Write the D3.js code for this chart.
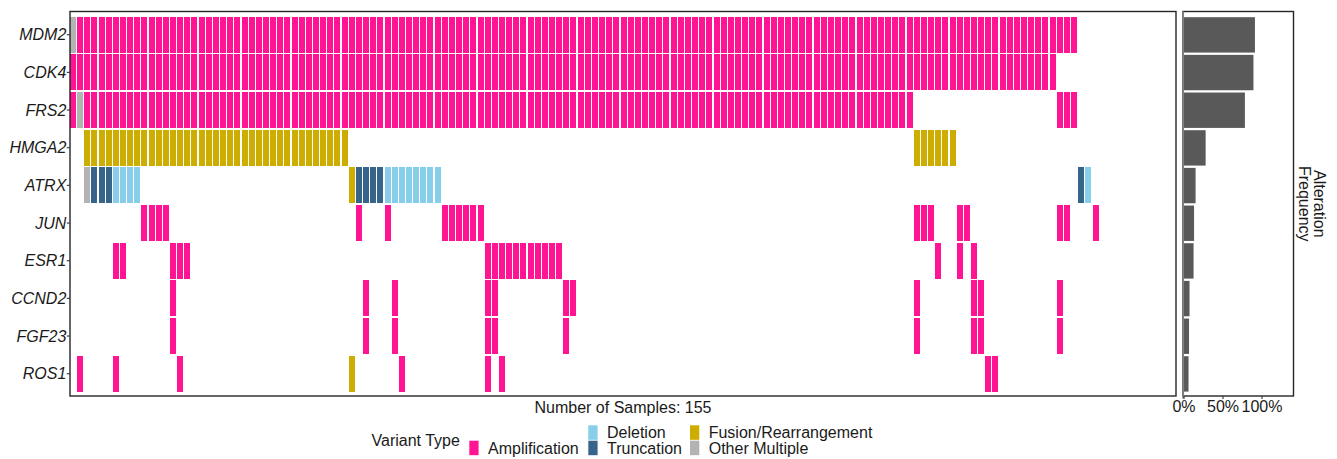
<!DOCTYPE html>
<html>
<head>
<meta charset="utf-8">
<script src="https://cdn.jsdelivr.net/npm/d3@7"></script>
<style>
  body { margin: 0; background: #ffffff; }
  svg { display: block; font-family: "Liberation Sans", Arial, Helvetica, sans-serif; }
</style>
</head>
<body>
<svg id="chart" width="1337" height="459"></svg>
<script>
// ---- data -------------------------------------------------------------
const genes = ["MDM2", "CDK4", "FRS2", "HMGA2", "ATRX", "JUN", "ESR1", "CCND2", "FGF23", "ROS1"];
const sampleTotal = 155;

// One character per sample (grouped in tens):
// A = Amplification, D = Deletion, T = Truncation,
// F = Fusion/Rearrangement, O = Other Multiple, . = no alteration
const MDM2  = "OAAAAAAAAA AAAAAAAAAA AAAAAAAAAA AAAAAAAAAA AAAAAAAAAA AAAAAAAAAA AAAAAAAAAA AAAAAAAAAA AAAAAAAAAA AAAAAAAAAA AAAAAAAAAA AAAAAAAAAA AAAAAAAAAA AAAAAAAAAA A......... .....";
const CDK4  = "AAAAAAAAAA AAAAAAAAAA AAAAAAAAAA AAAAAAAAAA AAAAAAAAAA AAAAAAAAAA AAAAAAAAAA AAAAAAAAAA AAAAAAAAAA AAAAAAAAAA AAAAAAAAAA AAAAAAAAAA AAAAAAAAAA AAAAAAAA.. .......... .....";
const FRS2  = "AOAAAAAAAA AAAAAAAAAA AAAAAAAAAA AAAAAAAAAA AAAAAAAAAA AAAAAAAAAA AAAAAAAAAA AAAAAAAAAA AAAAAAAAAA AAAAAAAAAA AAAAAAAAAA AAAAAAAA.. .......... ........AA A......... .....";
const HMGA2 = "..FFFFFFFF FFFFFFFFFF FFFFFFFFFF FFFFFFFFF. .......... .......... .......... .......... .......... .......... .......... ........FF FFFF...... .......... .......... .....";
const ATRX  = "..OTTTDDDD .......... .......... .........F TTTTDDDDDD DD........ .......... .......... .......... .......... .......... .......... .......... .......... .TD....... .....";
const JUN   = ".......... AAAA...... .......... .......... A...A..... ..AAAAAA.. .......... .......... .......... .......... .......... ........AA A...AA.... ........AA ...A...... .....";
const ESR1  = "......AA.. ....AAA... .......... .......... .......... ........AA AAAAAAAAA. .......... .......... .......... .......... .......... .A..A.A... .......... .......... .....";
const CCND2 = ".......... ....A..... .......... .......... .A...A.... ........AA .........A A......... .......... .......... .......... ........A. ......AA.. ........A. .......... .....";
const FGF23 = ".......... ....A..... .......... .......... .A...A.... ........AA .........A .......... .......... .......... .......... ........A. ......AA.. ........A. .......... .....";
const ROS1  = ".A....A... .....A.... .......... .........F ......A... ........A. A......... .......... .......... .......... .......... .......... ........AA .......... .......... .....";

const geneRows = [MDM2, CDK4, FRS2, HMGA2, ATRX, JUN, ESR1, CCND2, FGF23, ROS1];

const variantCodes  = ["A", "D", "T", "F", "O"];
const variantTypes  = ["Amplification", "Deletion", "Truncation", "Fusion/Rearrangement", "Other Multiple"];
const variantColors = ["#FF1493", "#87CEEB", "#36648B", "#CDAD00", "#B3B3B3"];

const freqTicks = [0, 0.5, 1];
const freqTickLabels = ["0%", "50%", "100%"];

// ---- tidy records -----------------------------------------------------
const codeToType = new Map(variantCodes.map((c, i) => [c, variantTypes[i]]));
const cells = [];
const freqs = [];
genes.forEach((g, gi) => {
  const s = geneRows[gi].replace(/ /g, "");
  let n = 0;
  for (let i = 0; i < s.length; i++) {
    if (s[i] !== ".") {
      cells.push({ gene: g, sample: i, type: codeToType.get(s[i]) });
      n++;
    }
  }
  freqs.push({ gene: g, freq: n / sampleTotal });
});

// ---- layout -----------------------------------------------------------
const svg = d3.select("#chart");
const ink = "#1a1a1a";

const panel = { left: 70, right: 1176, top: 11.5, bottom: 396 };
const freqPanel = { left: 1183, right: 1293.5, top: 11.5, bottom: 396 };

const x = d3.scaleBand()
  .domain(d3.range(sampleTotal))
  .range([69.9, 1177.2])
  .paddingInner(0.16)
  .paddingOuter(0);

const y = d3.scaleBand()
  .domain(genes)
  .range([16.7, 391.7])
  .paddingInner(0.045)
  .paddingOuter(0);

const color = d3.scaleOrdinal().domain(variantTypes).range(variantColors);

const fx = d3.scaleLinear().domain([0, 1]).range([1184, 1262]);

// ---- oncoprint tiles --------------------------------------------------
const bw = Math.round(x.bandwidth());
svg.append("g")
  .selectAll("rect")
  .data(cells)
  .join("rect")
  .attr("x", d => Math.round(x(d.sample)))
  .attr("y", d => Math.round(y(d.gene)))
  .attr("width", bw)
  .attr("height", Math.round(y.bandwidth()))
  .attr("fill", d => color(d.type));

// main panel border
svg.append("rect")
  .attr("x", panel.left).attr("y", panel.top)
  .attr("width", panel.right - panel.left)
  .attr("height", panel.bottom - panel.top)
  .attr("fill", "none")
  .attr("stroke", "#262626")
  .attr("stroke-width", 1.4);

// gene axis
const yAxis = svg.append("g");
genes.forEach(g => {
  const cy = y(g) + y.bandwidth() / 2;
  yAxis.append("line")
    .attr("x1", 66.8).attr("x2", panel.left)
    .attr("y1", cy).attr("y2", cy)
    .attr("stroke", "#333").attr("stroke-width", 1.1);
  yAxis.append("text")
    .attr("x", 66.3).attr("y", cy)
    .attr("dy", "0.35em")
    .attr("text-anchor", "end")
    .attr("font-size", 16)
    .attr("font-style", "italic")
    .attr("fill", ink)
    .text(g);
});

// sample count caption
svg.append("text")
  .attr("x", (panel.left + panel.right) / 2)
  .attr("y", 412.5)
  .attr("text-anchor", "middle")
  .attr("font-size", 16)
  .attr("fill", ink)
  .text("Number of Samples: " + sampleTotal);

// ---- alteration frequency bars ----------------------------------------
svg.append("g")
  .selectAll("rect")
  .data(freqs)
  .join("rect")
  .attr("x", fx(0))
  .attr("y", d => y(d.gene) + 0.5)
  .attr("width", d => fx(d.freq) - fx(0))
  .attr("height", y.bandwidth() - 0.6)
  .attr("fill", "#595959");

svg.append("rect")
  .attr("x", freqPanel.left).attr("y", freqPanel.top)
  .attr("width", freqPanel.right - freqPanel.left)
  .attr("height", freqPanel.bottom - freqPanel.top)
  .attr("fill", "none")
  .attr("stroke", "#262626")
  .attr("stroke-width", 1.4);

// baseline at zero
svg.append("line")
  .attr("x1", fx(0) - 0.8).attr("x2", fx(0) - 0.8)
  .attr("y1", freqPanel.top).attr("y2", freqPanel.bottom + 2.5)
  .attr("stroke", "#808080").attr("stroke-width", 1.7);

const fAxis = svg.append("g");
freqTicks.forEach((t, i) => {
  fAxis.append("line")
    .attr("x1", fx(t)).attr("x2", fx(t))
    .attr("y1", freqPanel.bottom).attr("y2", freqPanel.bottom + 3)
    .attr("stroke", "#333").attr("stroke-width", 1.1);
  fAxis.append("text")
    .attr("x", fx(t)).attr("y", 412)
    .attr("text-anchor", "middle")
    .attr("font-size", 16)
    .attr("fill", ink)
    .text(freqTickLabels[i]);
});

// rotated panel title
const titleY = (freqPanel.top + freqPanel.bottom) / 2;
["Alteration", "Frequency"].forEach((line, i) => {
  svg.append("text")
    .attr("transform", `translate(${1313.5 - i * 14.8},${titleY}) rotate(90)`)
    .attr("text-anchor", "middle")
    .attr("font-size", 16)
    .attr("fill", ink)
    .text(line);
});

// ---- legend -----------------------------------------------------------
const legend = svg.append("g");
legend.append("text")
  .attr("x", 371.5).attr("y", 446.3)
  .attr("font-size", 16).attr("fill", ink)
  .text("Variant Type");

// key positions: columns of two rows, first slot of column one left empty
const legendSlots = [
  { type: "Amplification",        kx: 469.3, ky: 440.7 },
  { type: "Deletion",             kx: 588.3, ky: 425.3 },
  { type: "Truncation",           kx: 588.3, ky: 440.7 },
  { type: "Fusion/Rearrangement", kx: 690.0, ky: 425.3 },
  { type: "Other Multiple",       kx: 690.0, ky: 440.7 }
];
legendSlots.forEach(s => {
  legend.append("rect")
    .attr("x", s.kx).attr("y", s.ky)
    .attr("width", 9.3).attr("height", 14.5)
    .attr("fill", color(s.type));
  legend.append("text")
    .attr("x", s.kx + 18.7).attr("y", s.ky + 7.3)
    .attr("dy", "0.35em")
    .attr("font-size", 16).attr("fill", ink)
    .text(s.type);
});
</script>
</body>
</html>
